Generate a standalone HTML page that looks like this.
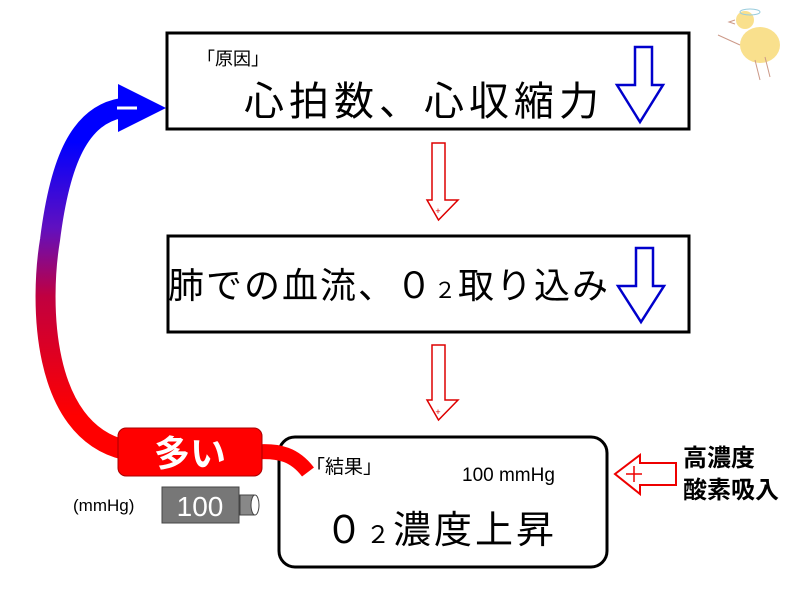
<!DOCTYPE html>
<html><head><meta charset="utf-8"><style>
body{margin:0;width:800px;height:600px;background:#fff;overflow:hidden;position:relative;font-family:"Liberation Sans","Noto Sans CJK JP",sans-serif}
.t{position:absolute;white-space:nowrap;color:#000;line-height:1}
</style></head><body>
<svg width="800" height="600" style="position:absolute;left:0;top:0">
<defs>
<linearGradient id="g" x1="0" y1="1" x2="0" y2="0">
<stop offset="0.1" stop-color="#f00"/><stop offset="0.45" stop-color="#c00040"/><stop offset="0.65" stop-color="#6010c0"/><stop offset="0.9" stop-color="#00f"/></linearGradient>
</defs>
<rect x="167" y="33" width="522" height="96" fill="#fff" stroke="#000" stroke-width="3"/>
<rect x="168" y="236" width="521" height="96" fill="#fff" stroke="#000" stroke-width="3"/>
<rect x="279" y="437" width="328" height="130" rx="16" fill="#fff" stroke="#000" stroke-width="3"/>
<path d="M635 47H652V85H663L640 122L617 85H635Z" fill="none" stroke="#00c" stroke-width="2.5"/>
<path d="M636 248H653V286H664L641 322L618 286H636Z" fill="none" stroke="#00c" stroke-width="2.5"/>
<path d="M432 143H445V200H458L438.5 220L427 200H432Z" fill="none" stroke="#d00" stroke-width="1.5"/>
<text x="438" y="214" font-size="9" fill="#d00" text-anchor="middle">+</text>
<path d="M432 345H445V400H458L438.5 420L427 400H432Z" fill="none" stroke="#d00" stroke-width="1.5"/>
<text x="438" y="415" font-size="9" fill="#d00" text-anchor="middle">+</text>
<path d="M676 463V485H640V494L615 474L640 455V463Z" fill="none" stroke="#e00" stroke-width="2"/>
<path d="M626 474H642M634 466V482" stroke="#e00" stroke-width="1.5"/>
<path d="M125 450C40 430 40 300 50 240C60 160 80 115 122 108" fill="none" stroke="url(#g)" stroke-width="20"/>
<path d="M118 84L166 108L118 132Z" fill="#00f"/>
<path d="M117 108H137" stroke="#fff" stroke-width="3"/>
<path d="M255 452C280 450 295 455 308 472" fill="none" stroke="#f00" stroke-width="15"/>
<rect x="118" y="428" width="144" height="48" rx="8" fill="#f00" stroke="#a00" stroke-width="1"/>
<text x="190" y="466" font-size="36" font-weight="bold" fill="#fff" text-anchor="middle" font-family="Liberation Sans,Noto Sans CJK JP,sans-serif">多い</text>
<rect x="162" y="487" width="77" height="36" fill="#777" stroke="#444"/>
<text x="200" y="516" font-size="28" fill="#fff" text-anchor="middle">100</text>
<rect x="240" y="495" width="14" height="20" fill="#888" stroke="#444"/>
<ellipse cx="255" cy="505" rx="4" ry="10" fill="#fff" stroke="#444"/>
<g transform="translate(760,45)">
<ellipse cx="0" cy="0" rx="20" ry="18" fill="#f8d870" opacity="0.8"/>
<circle cx="-15" cy="-25" r="9" fill="#f8d870" opacity="0.8"/>
<ellipse cx="-10" cy="-33" rx="10" ry="3" fill="none" stroke="#9cd"/>
<path d="M-25 -25l-6 2 6 2M-5 15l5 20M5 12l5 20M-20 0l-22 -10" stroke="#c98" fill="none"/>
</g>
</svg>
<div class="t" style="left:197px;top:50px;font-size:18px">「原因」</div>
<div class="t" style="left:244px;top:82px;font-size:40px;letter-spacing:5px">心拍数、心収縮力</div>
<div class="t" style="left:168px;top:268px;font-size:36px;letter-spacing:2px">肺での血流、０<span style="font-size:22px">２</span>取り込み</div>
<div class="t" style="left:306px;top:458px;font-size:19px">「結果」</div>
<div class="t" style="left:462px;top:466px;font-size:19px">100 mmHg</div>
<div class="t" style="left:325px;top:512px;font-size:38px;letter-spacing:3px">０<span style="font-size:24px">２</span>濃度上昇</div>
<div class="t" style="left:683px;top:447px;font-size:24px;font-weight:bold">高濃度</div>
<div class="t" style="left:683px;top:479px;font-size:24px;font-weight:bold">酸素吸入</div>
<div class="t" style="left:73px;top:497px;font-size:17px">(mmHg)</div>
</body></html>
